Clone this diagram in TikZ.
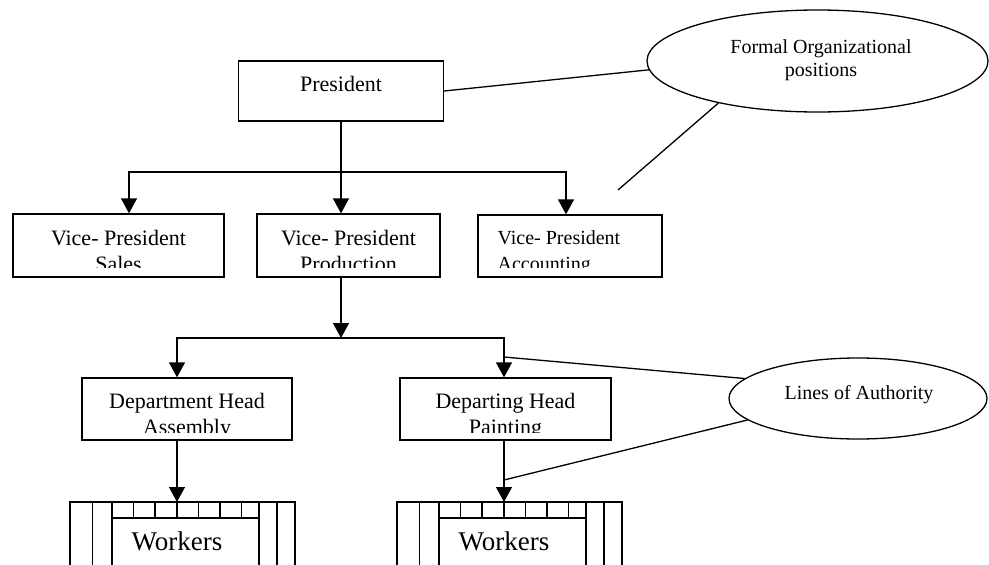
\documentclass[tikz,border=0pt]{standalone}
\usepackage{fontspec}
\setmainfont{Liberation Serif}
\usetikzlibrary{arrows.meta,shapes.geometric,positioning}

% rows of workers under a department head
\newcommand\crew[2]{%
  \begin{scope}[xshift=#1pt]
    \draw (0,565) -- (0,502) -- (225,502) -- (225,565);
    \draw (22.5,502) -- (22.5,565);
    \draw (207,502) -- (207,565);
    \draw (42,565) -- (42,502);
    \draw (189,565) -- (189,502);
    \draw (42,518) -- (189,518);
    \foreach \t in {63.5,85,107,128.5,150,171.5}
      \draw (\t,502) -- (\t,518);
    \coordinate (#2top) at (107,502);
    \node[crewtext] (#2) at (107,550) {Workers};
  \end{scope}}

\begin{document}
\begin{tikzpicture}[x=1pt, y=-1pt, line width=1.3pt,
    post/.style = {draw, rectangle, inner sep=0pt},
    title/.style = {font=\fontsize{22}{26}\selectfont, align=center,
      anchor=base, inner sep=0pt},
    note/.style = {draw, ellipse, inner sep=0pt},
    notetext/.style = {font=\fontsize{20}{23}\selectfont, align=center,
      anchor=base, inner sep=0pt},
    crewtext/.style = {font=\fontsize{27}{30}\selectfont, anchor=base,
      inner sep=0pt},
    arr/.style = {-{Triangle[length=15pt,width=16pt]}}]

  \useasboundingbox (0,0) rectangle (989,565);

  % president
  \node[post, minimum width=205pt, minimum height=60pt] (president) at (341,91) {};
  \node[title] (presidentlbl) at (341,91) {President};

  % vice presidents (second text line runs past the box and is cut)
  \node[post, minimum width=211pt, minimum height=63pt] (vpsales) at (118.5,245.5) {};
  \begin{scope}
    \clip (vpsales.north west) rectangle ([yshift=10pt]vpsales.south east);
    \node[title] (vpsaleslbl) at (118.5,271) {Vice- President\\Sales};
  \end{scope}

  \node[post, minimum width=183pt, minimum height=63pt] (vpprod) at (348.5,245.5) {};
  \begin{scope}
    \clip (vpprod.north west) rectangle ([yshift=10pt]vpprod.south east);
    \node[title] (vpprodlbl) at (348.5,271) {Vice- President\\Production};
  \end{scope}

  \node[post, minimum width=184pt, minimum height=62pt] (vpacct) at (570,246) {};
  \begin{scope}
    \clip (vpacct.north west) rectangle ([yshift=10pt]vpacct.south east);
    \node[title, font=\fontsize{20}{26}\selectfont, align=left, anchor=base west]
      (vpacctlbl) at (497,270) {Vice- President\\Accounting};
  \end{scope}

  % department heads
  \node[post, minimum width=210pt, minimum height=62pt] (assembly) at (187,409) {};
  \begin{scope}
    \clip (assembly.north west) rectangle ([yshift=8pt]assembly.south east);
    \node[title] (assemblylbl) at (187,434) {Department Head\\Assembly};
  \end{scope}

  \node[post, minimum width=211pt, minimum height=62pt] (painting) at (505.5,409) {};
  \begin{scope}
    \clip (painting.north west) rectangle ([yshift=8pt]painting.south east);
    \node[title] (paintinglbl) at (505.5,434) {Departing Head\\Painting};
  \end{scope}

  % workers
  \crew{70}{crewA}
  \crew{397}{crewB}

  % notes
  \node[note, minimum width=341pt, minimum height=102pt] (formal) at (817.5,61) {};
  \node[notetext] (formallbl) at (821,76) {Formal Organizational\\positions};
  \node[note, minimum width=258pt, minimum height=81pt] (authority) at (858,398.5) {};
  \node[notetext] (authoritylbl) at (859,399) {Lines of Authority};

  % lines of authority
  \draw[arr] (president.south) -- (president.south |- vpprod.north);
  \coordinate (vpbus) at (341,172);
  \draw[arr] (vpbus) -| ([xshift=10.5pt]vpsales.north);
  \draw[arr] (vpbus) -| ([xshift=-4pt]vpacct.north);
  \coordinate (prodbus) at (341,338);
  \draw[arr] (prodbus |- vpprod.south) -- (prodbus);
  \draw[arr] (prodbus) -| ([xshift=-10pt]assembly.north);
  \draw[arr] (prodbus) -| ([xshift=-1.5pt]painting.north);
  \draw[arr] ([xshift=-10pt]assembly.south) -- (crewAtop);
  \draw[arr] ([xshift=-1.5pt]painting.south) -- (crewBtop);

  % pointers from the notes
  \draw (president.east) -- (formal.183);
  \coordinate (formalend) at (618,190);
  \draw (formal.203) -- (formalend);
  \coordinate (authtop) at (504,357);
  \coordinate (authlow) at (504,480);
  \draw (authtop) -- (authority.170);
  \draw (authlow) -- (authority.191);
\end{tikzpicture}
\end{document}
